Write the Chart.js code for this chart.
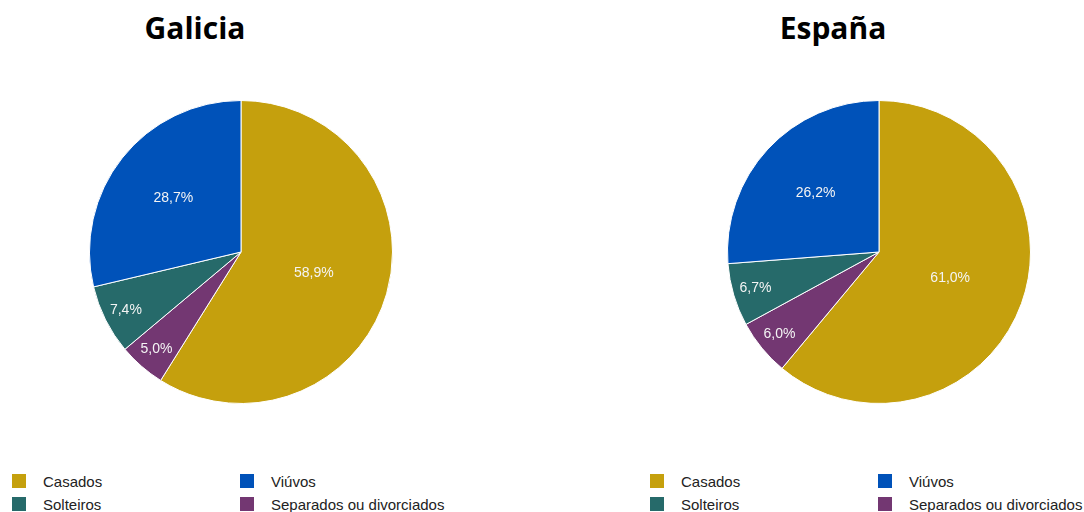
<!DOCTYPE html>
<html>
<head>
<meta charset="utf-8">
<script src="https://cdn.jsdelivr.net/npm/chart.js@4/dist/chart.umd.min.js"></script>
<style>
  html, body { margin: 0; padding: 0; background: #fff; }
  body { width: 1084px; height: 512px; position: relative; overflow: hidden; }
  .panel { position: absolute; top: 0; width: 446px; height: 512px; }
  .title { position: absolute; top: 8px; left: 95px; width: 200px; text-align: center;
           font-family: "Open Sans", "Noto Sans", sans-serif; font-weight: 700; font-size: 30px; color: #000; line-height: 40px; }
  .pie { position: absolute; left: 89px; top: 100px; }
  .legend { position: absolute; left: 12px; top: 474px; width: 440px;
            display: grid; grid-template-columns: 228px 212px; row-gap: 9px; }
  .item { display: flex; align-items: center; font-family: "Liberation Sans", Arial, sans-serif; font-size: 15px; color: #222; height: 14px; }
  .sw { width: 14px; height: 14px; margin-right: 17px; flex: none; }
</style>
</head>
<body>
<div class="panel" id="p0" style="left:0px">
  <div class="title" id="t0"></div>
  <canvas class="pie" id="c0" width="304" height="304"></canvas>
  <div class="legend" id="l0"></div>
</div>
<div class="panel" id="p1" style="left:638px">
  <div class="title" id="t1"></div>
  <canvas class="pie" id="c1" width="304" height="304"></canvas>
  <div class="legend" id="l1"></div>
</div>
<script>
// ---- data ----
const titles = ["Galicia", "España"];
const categories = ["Casados", "Separados ou divorciados", "Solteiros", "Viúvos"];
const galicia = [58.9, 5.0, 7.4, 28.7];
const espana = [61.0, 6.0, 6.7, 26.2];
const colors = ["#c5a00d", "#733772", "#266a6a", "#0052b9"];
const legendOrder = ["Casados", "Viúvos", "Solteiros", "Separados ou divorciados"];

const fmt = v => v.toFixed(1).replace('.', ',') + '%';

const sliceLabels = {
  id: 'sliceLabels',
  afterDatasetsDraw(chart) {
    const ctx = chart.ctx;
    const meta = chart.getDatasetMeta(0);
    const data = chart.data.datasets[0].data;
    ctx.save();
    ctx.font = '14px "Liberation Sans", Arial, sans-serif';
    ctx.fillStyle = '#f4f4f4';
    ctx.textAlign = 'center';
    ctx.textBaseline = 'middle';
    meta.data.forEach((arc, i) => {
      const p = arc.getProps(['x', 'y', 'startAngle', 'endAngle', 'outerRadius']);
      const mid = (p.startAngle + p.endAngle) / 2;
      const v = data[i];
      const f = v >= 50 ? 0.5 : (v >= 15 ? 0.57 : 0.85);
      const r = p.outerRadius * f;
      ctx.fillText(fmt(v), p.x + Math.cos(mid) * r, p.y + Math.sin(mid) * r);
    });
    ctx.restore();
  }
};

function build(idx, values) {
  document.getElementById('t' + idx).textContent = titles[idx];
  const chart = new Chart(document.getElementById('c' + idx), {
    type: 'pie',
    data: {
      labels: categories,
      datasets: [{ data: values, backgroundColor: colors, borderColor: '#ffffff', borderWidth: 1 }]
    },
    options: {
      responsive: false,
      animation: false,
      layout: { padding: 0 },
      plugins: { legend: { display: false }, tooltip: { enabled: false }, title: { display: false } }
    },
    plugins: [sliceLabels]
  });
  const lg = document.getElementById('l' + idx);
  legendOrder.forEach(name => {
    const i = chart.data.labels.indexOf(name);
    const it = document.createElement('div');
    it.className = 'item';
    const sw = document.createElement('span');
    sw.className = 'sw';
    sw.style.background = chart.data.datasets[0].backgroundColor[i];
    const tx = document.createElement('span');
    tx.textContent = name;
    it.appendChild(sw); it.appendChild(tx);
    lg.appendChild(it);
  });
}
build(0, galicia);
build(1, espana);
</script>
</body>
</html>
